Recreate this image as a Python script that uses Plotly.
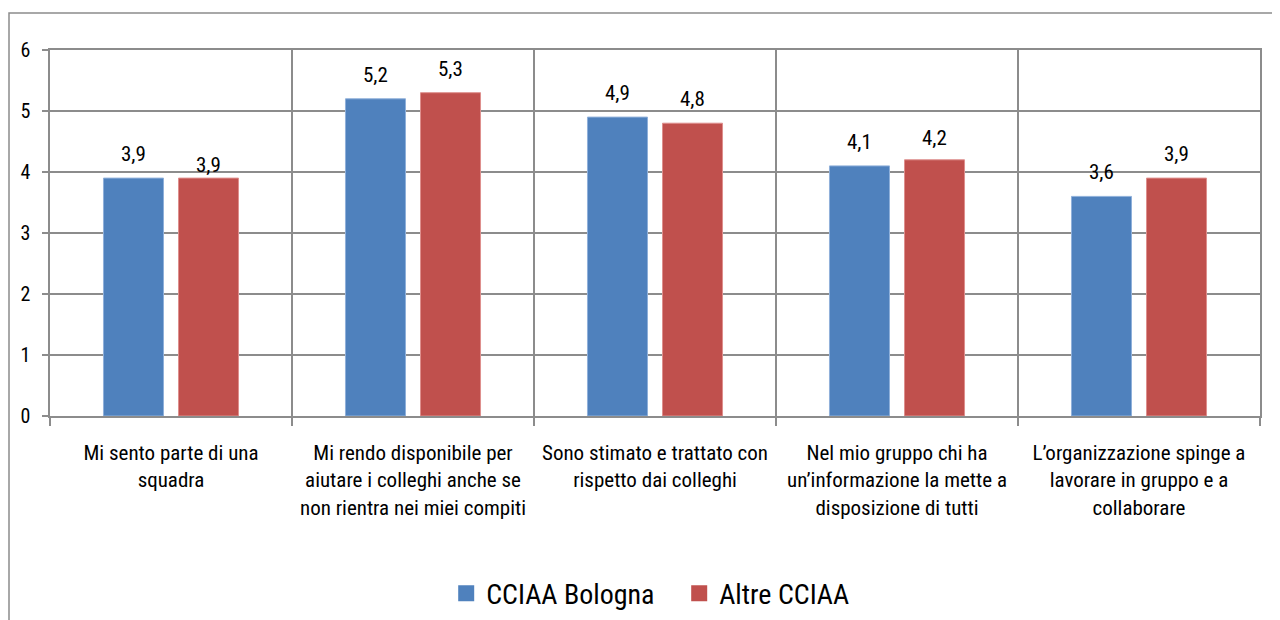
import plotly.graph_objects as go

categories = [
    "Mi sento parte di una<br>squadra",
    "Mi rendo disponibile per<br>aiutare i colleghi anche se<br>non rientra nei miei compiti",
    "Sono stimato e trattato con<br>rispetto dai colleghi",
    "Nel mio gruppo chi ha<br>un’informazione la mette a<br>disposizione di tutti",
    "L’organizzazione spinge a<br>lavorare in gruppo e a<br>collaborare",
]
bologna = [3.9, 5.2, 4.9, 4.1, 3.6]
altre = [3.9, 5.3, 4.8, 4.2, 3.9]
series_names = ["CCIAA Bologna", "Altre CCIAA"]

# styling
colors = ["#4F81BD", "#C0504D"]
outline = ["#8FB0DA", "#DE8F8D"]
label_offsets = [[24, 24, 24, 24, 24], [13, 24, 24, 22, 24]]
FONT = "Liberation Sans Narrow, Arial Narrow, Roboto Condensed, Liberation Sans, sans-serif"
GRID = "#8C8C8C"

fig = go.Figure()
for i, (name, vals) in enumerate(zip(series_names, [bologna, altre])):
    fig.add_trace(go.Bar(
        x=categories, y=vals, name=name, showlegend=False,
        marker=dict(color=colors[i], line=dict(color=outline[i], width=1)),
    ))
    for j, (c, v) in enumerate(zip(categories, vals)):
        fig.add_annotation(
            x=c, y=v, xref="x", yref="y",
            text=f"{v:.1f}".replace(".", ","),
            showarrow=False, xshift=(-37.5 if i == 0 else 37.5),
            yshift=label_offsets[i][j], yanchor="middle",
            font=dict(family=FONT, size=21, color="#000000"),
        )
# legend entries with larger square swatches
for i, name in enumerate(series_names):
    fig.add_trace(go.Scatter(
        x=[None], y=[None], mode="markers", name=name,
        marker=dict(symbol="square", size=17, color=colors[i]),
    ))

# page has an 8px body margin; compensate
W, H = 1280, 620
ml, mr, mt, mb = 42, 28, 42, 212
pw, ph = W - ml - mr, H - mt - mb
fig.add_shape(
    type="rect", xref="paper", yref="paper",
    x0=(1 - ml) / pw, x1=(1300 - ml) / pw,
    y0=(H - mb - 640) / ph, y1=(H - mb - 5) / ph,
    line=dict(color="#8C8C8C", width=1.5), fillcolor="rgba(0,0,0,0)", layer="below",
)

fig.update_layout(
    width=W, height=H,
    margin=dict(l=ml, r=mr, t=mt, b=mb, autoexpand=False),
    paper_bgcolor="white", plot_bgcolor="white",
    barmode="group", bargap=0.38, bargroupgap=0.2,
    font=dict(family=FONT, color="#000000"),
    showlegend=True,
    legend=dict(
        orientation="h", x=0.52, xanchor="center", y=-0.485, yanchor="middle",
        font=dict(family=FONT, size=28, color="#000000"),
        itemwidth=30, entrywidth=188, bgcolor="rgba(0,0,0,0)",
    ),
)
fig.update_xaxes(
    type="category", tickson="boundaries", showgrid=True, gridcolor=GRID, gridwidth=1.5,
    showline=True, linecolor=GRID, linewidth=1.5, mirror=True,
    ticks="outside", ticklen=8, tickcolor=GRID, tickwidth=1.5,
    tickfont=dict(family=FONT, size=21, color="#000000"), tickangle=0,
    ticklabelstandoff=17, automargin=False,
)
fig.update_yaxes(
    range=[0, 6], dtick=1, tick0=0, showgrid=True, gridcolor=GRID, gridwidth=1.5,
    showline=True, linecolor=GRID, linewidth=1.5, mirror=True,
    ticks="outside", ticklen=6, tickcolor=GRID, tickwidth=1.5,
    tickfont=dict(family=FONT, size=20, color="#000000"), zeroline=False,
    ticklabelstandoff=8, automargin=False,
)

fig.write_html("out.html")
